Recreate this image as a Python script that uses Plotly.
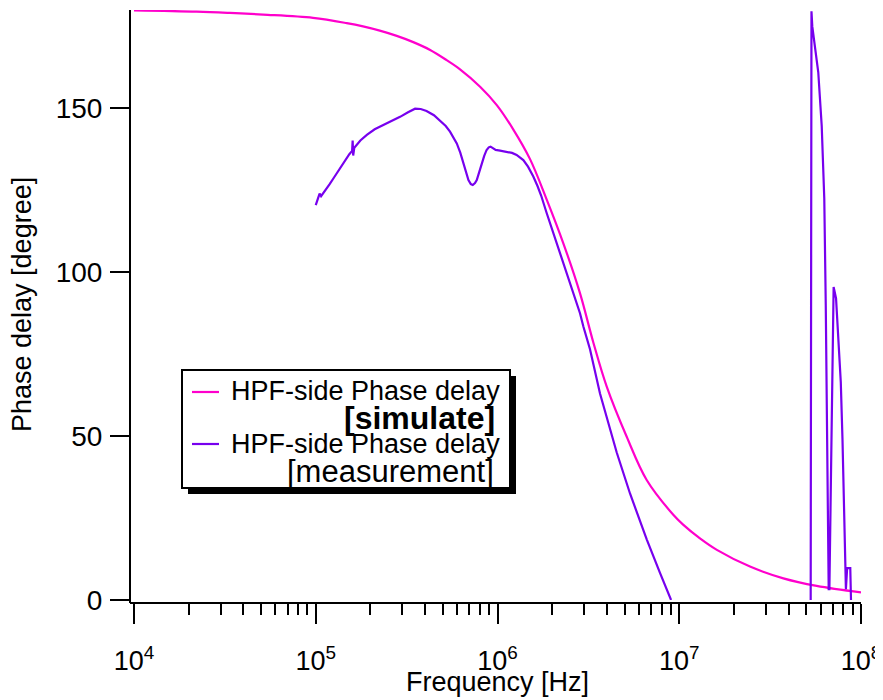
import plotly.graph_objects as go

# ---------------- data ----------------
sim_freq = [1.00e4, 2.21e4, 3.37e4, 5.13e4, 9.66e4, 1.48e5, 1.82e5, 2.25e5, 2.79e5,
            3.44e5, 4.26e5, 5.25e5, 6.22e5, 8.02e5, 9.91e5, 1.22e6, 1.51e6, 1.87e6,
            2.30e6, 2.84e6, 3.37e6, 3.99e6, 5.14e6, 6.62e6, 9.27e6, 1.05e7, 1.30e7,
            1.61e7, 2.45e7, 3.74e7, 5.70e7, 1.00e8]
sim_phase = [179.9, 179.5, 179.1, 178.6, 177.6, 176.0, 175.0, 173.7, 172.1,
             170.2, 167.8, 164.7, 161.9, 156.6, 151.0, 143.6, 134.5, 122.0,
             108.9, 93.7, 78.5, 65.1, 49.8, 36.6, 26.0, 23.0, 18.8,
             15.3, 10.2, 6.6, 4.3, 2.3]

meas_freq = [1.00e5, 1.05e5, 1.07e5, 1.12e5, 1.19e5, 1.25e5, 1.33e5, 1.42e5, 1.53e5,
             1.585e5, 1.596e5, 1.607e5, 1.63e5, 1.76e5, 1.91e5, 2.11e5, 2.36e5, 2.63e5,
             2.91e5, 3.22e5, 3.52e5, 3.78e5, 4.07e5, 4.47e5, 4.83e5, 5.19e5, 5.48e5,
             5.75e5, 5.97e5, 6.24e5, 6.49e5, 6.73e5, 6.92e5, 7.13e5, 7.31e5, 7.52e5,
             7.69e5, 7.94e5, 8.18e5, 8.45e5, 8.71e5, 8.95e5, 9.16e5, 9.44e5, 9.77e5,
             1.033e6, 1.122e6, 1.202e6, 1.274e6, 1.334e6, 1.387e6, 1.472e6, 1.574e6,
             1.660e6, 1.738e6, 1.866e6, 2.075e6, 2.301e6, 2.559e6, 2.844e6, 2.965e6,
             3.228e6, 3.664e6, 4.529e6, 5.358e6, 6.622e6, 7.834e6, 9.016e6,
             None,
             5.286e7, 5.340e7, 5.395e7, 5.82e7, 6.08e7, 6.28e7, 6.40e7, 6.49e7, 6.56e7,
             6.64e7, 6.70e7, 7.07e7, 7.29e7, 7.55e7, 7.74e7, 7.91e7, 8.07e7, 8.18e7,
             8.26e7, 8.39e7, 8.73e7, 8.81e7]
meas_phase = [120.5, 124.0, 123.2, 124.6, 126.8, 128.6, 131.0, 133.2, 136.0,
              137.0, 140.2, 135.6, 138.0, 140.2, 141.9, 143.6, 144.9, 146.3,
              147.4, 148.8, 149.9, 149.8, 149.2, 147.9, 146.3, 144.6, 142.9,
              141.0, 139.3, 136.5, 133.2, 130.0, 128.1, 126.9, 126.6, 127.2,
              128.1, 130.6, 133.2, 135.5, 137.3, 138.1, 138.3, 137.9, 137.3,
              137.1, 136.8, 136.4, 135.8, 135.0, 134.2, 132.2, 129.2,
              126.3, 123.4, 118.0, 110.2, 102.7, 95.0, 87.5, 83.5,
              76.5, 63.0, 45.0, 32.5, 18.5, 8.3, 0.0,
              None,
              0.0, 179.6, 175.0, 161.0, 144.6, 122.4, 89.8, 54.9, 31.5,
              3.3, 3.3, 95.5, 92.0, 78.0, 66.5, 49.0, 31.5, 12.9,
              3.3, 9.7, 9.7, 0.0]

x_tick_vals = [1e4, 1e5, 1e6, 1e7, 1e8]
x_tick_text = ["10<sup>4</sup>", "10<sup>5</sup>", "10<sup>6</sup>", "10<sup>7</sup>", "10<sup>8</sup>"]
y_tick_vals = [0, 50, 100, 150]
sim_name = "HPF-side Phase delay [simulate]"
meas_name = "HPF-side Phase delay [measurement]"

PINK = "#FF00CC"
PURPLE = "#7700EE"
FONT = "Liberation Sans, Arial, Helvetica, sans-serif"

# ---------------- layout geometry ----------------
# The page body has an 8px margin, so the figure is drawn 8px smaller and all
# reference pixel positions are handled relative to that offset.
OFF = 8
W_FIG, H_FIG = 883 - OFF, 700 - OFF
L, R, T, B = 130, 861, 10, 603           # plot frame in reference pixels
PW, PH = R - L, B - T


def fx(x):
    return (x - L) / PW


def fy(y):
    return (B - y) / PH


minor_vals = [k * 10 ** e for e in range(4, 8) for k in range(2, 10)]

fig = go.Figure()
fig.add_trace(go.Scatter(x=sim_freq, y=sim_phase, mode="lines", name=sim_name,
                         line=dict(color=PINK, width=2.2, shape="spline", smoothing=1.0),
                         showlegend=False))
fig.add_trace(go.Scatter(x=meas_freq, y=meas_phase, mode="lines", name=meas_name,
                         line=dict(color=PURPLE, width=2.2), connectgaps=False,
                         showlegend=False))

fig.update_layout(
    width=W_FIG, height=H_FIG,
    margin=dict(l=L - OFF, r=883 - R, t=T - OFF, b=700 - B, pad=0, autoexpand=False),
    paper_bgcolor="white", plot_bgcolor="white",
    font=dict(family=FONT, color="black", size=26),
    xaxis=dict(type="log", range=[4, 8], domain=[fx(134), 1], anchor="free", position=0,
               automargin=False,
               tickmode="array", tickvals=x_tick_vals, ticktext=x_tick_text,
               ticks="outside", ticklen=20, tickwidth=2, tickcolor="black",
               tickfont=dict(size=27, family=FONT), ticklabelstandoff=14,
               showline=False, showgrid=False, zeroline=False,
               minor=dict(tickmode="array", tickvals=minor_vals, ticks="outside",
                          ticklen=11, tickwidth=2, tickcolor="black", showgrid=False)),
    yaxis=dict(range=[0, 180], domain=[fy(600), 1], anchor="free", position=0,
               automargin=False,
               tickmode="array", tickvals=y_tick_vals,
               ticks="outside", ticklen=20, tickwidth=2, tickcolor="black",
               tickfont=dict(size=28, family=FONT), ticklabelstandoff=2,
               showline=False, showgrid=False, zeroline=False),
)

shapes = [
    # axis lines (offset Igor style)
    dict(type="line", xref="paper", yref="paper", x0=0, x1=0, y0=0, y1=1,
         line=dict(color="black", width=2)),
    dict(type="line", xref="paper", yref="paper", x0=0, x1=1, y0=0, y1=0,
         line=dict(color="black", width=2)),
    # legend shadow + box
    dict(type="rect", xref="paper", yref="paper", x0=fx(188), x1=fx(516), y0=fy(494), y1=fy(376),
         fillcolor="black", line=dict(color="black", width=0)),
    dict(type="rect", xref="paper", yref="paper", x0=fx(182), x1=fx(510), y0=fy(488), y1=fy(370),
         fillcolor="white", line=dict(color="black", width=2)),
    # legend samples
    dict(type="line", xref="paper", yref="paper", x0=fx(192), x1=fx(219), y0=fy(392), y1=fy(392),
         line=dict(color=PINK, width=2.2)),
    dict(type="line", xref="paper", yref="paper", x0=fx(192), x1=fx(219), y0=fy(444), y1=fy(444),
         line=dict(color=PURPLE, width=2.2)),
]
fig.update_layout(shapes=shapes)

ann = []


def add_text(text, x, y, size, xanchor="right", bold=False, angle=0):
    ann.append(dict(text=("<b>%s</b>" % text) if bold else text, xref="paper", yref="paper",
                    x=fx(x), y=fy(y), xanchor=xanchor, yanchor="middle", showarrow=False,
                    textangle=angle, font=dict(family=FONT, size=size, color="black")))


add_text("HPF-side Phase delay", 502, 391, 27)
add_text("[simulate]", 497, 418, 32, bold=True)
add_text("HPF-side Phase delay", 502, 444, 27)
add_text("[measurement]", 496, 471, 31)
add_text("Frequency [Hz]", 497.5, 682, 27, xanchor="center")
add_text("Phase delay [degree]", 22, 305, 27, xanchor="center", angle=-90)
fig.update_layout(annotations=ann)

fig.write_html("out.html")
